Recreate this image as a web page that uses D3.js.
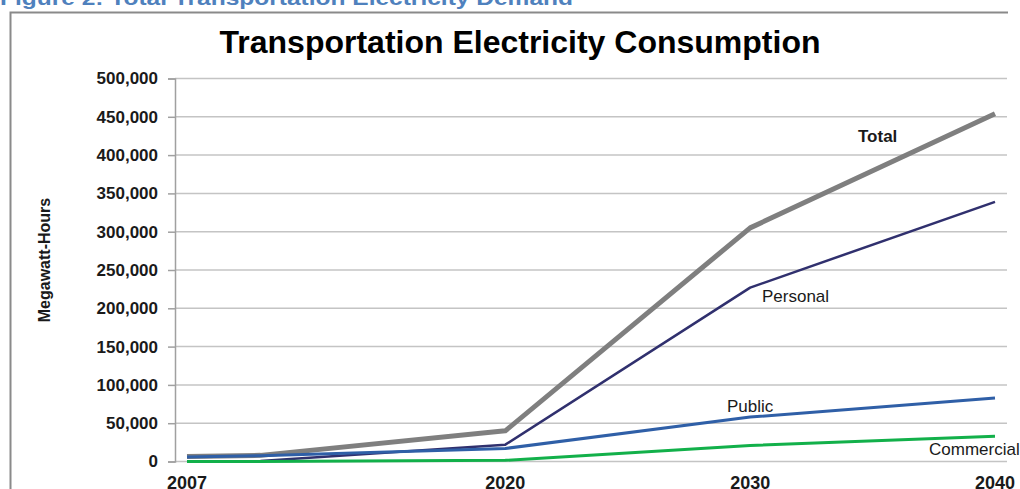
<!DOCTYPE html>
<html>
<head>
<meta charset="utf-8">
<script src="https://cdn.jsdelivr.net/npm/d3@7"></script>
<style>
  body { margin: 0; background: #fff; }
  svg { display: block; font-family: "Liberation Sans", Arial, sans-serif; }
</style>
</head>
<body>
<div id="chart"></div>
<script>
// values (MWh)
const years = [2007, 2010, 2020, 2030, 2040]
const total = [6500, 8000, 40000, 305000, 454000]
const personal = [0, 500, 22000, 227000, 339000]
const publicUse = [6000, 7500, 17000, 58000, 83000]
const commercial = [0, 0, 1500, 21000, 33000]
const yTicks = [0, 50000, 100000, 150000, 200000, 250000, 300000, 350000, 400000, 450000, 500000]
const xTicks = [2007, 2020, 2030, 2040]

const width = 1020
const height = 489

const series = [
    { name: "Total", values: total, color: "#7f7f7f", w: 5 },
    { name: "Personal", values: personal, color: "#30306e", w: 2.5 },
    { name: "Public", values: publicUse, color: "#2f5fa7", w: 3 },
    { name: "Commercial", values: commercial, color: "#12b04a", w: 3 }
]

const svg = d3.select("#chart")
    .append("svg")
    .attr("width", width)
    .attr("height", height)

// figure caption, cut off at the top like the scan
svg.append("text")
    .attr("x", 0)
    .attr("y", 5)
    .attr("fill", "#4f81bd")
    .attr("font-weight", "bold")
    .attr("font-size", 21)
    .attr("textLength", 573)
    .attr("lengthAdjust", "spacingAndGlyphs")
    .text("Figure 2: Total Transportation Electricity Demand")

// chart frame (left and top edges only visible)
svg.append("path")
    .attr("d", "M10.5,489 V12.5 H1008")
    .attr("fill", "none")
    .attr("stroke", "#8a8a8a")
    .attr("stroke-width", 2)

svg.append("text")
    .attr("x", 520)
    .attr("y", 53)
    .attr("text-anchor", "middle")
    .attr("font-weight", "bold")
    .attr("font-size", 32)
    .attr("fill", "#000")
    .text("Transportation Electricity Consumption")

const x = d3.scaleLinear()
    .domain([2007, 2040])
    .range([187, 995])

const y = d3.scaleLinear()
    .domain([0, 500000])
    .range([461.5, 78.5])

// gridlines
svg.append("g")
    .selectAll("line")
    .data(yTicks)
    .enter()
    .append("line")
    .attr("x1", 175)
    .attr("x2", 1007)
    .attr("y1", d => y(d))
    .attr("y2", d => y(d))
    .attr("stroke", "#c4c4c4")
    .attr("stroke-width", 1.5)

// y axis
const yAxis = svg.append("g")
    .attr("transform", "translate(175,0)")
    .call(d3.axisLeft(y).tickValues(yTicks).tickSize(7).tickPadding(10).tickFormat(d3.format(",")))
yAxis.select(".domain").attr("stroke", "#a0a0a0").attr("stroke-width", 1.5)
yAxis.selectAll(".tick line").attr("stroke", "#a0a0a0").attr("stroke-width", 1.5)
yAxis.selectAll(".tick text")
    .attr("font-size", 17)
    .attr("font-weight", "bold")
    .attr("font-family", "Liberation Sans, Arial, sans-serif")
    .attr("fill", "#1a1a1a")

// x axis labels
svg.append("g")
    .selectAll("text")
    .data(xTicks)
    .enter()
    .append("text")
    .attr("x", d => x(d))
    .attr("y", 489)
    .attr("text-anchor", "middle")
    .attr("font-size", 18)
    .attr("font-weight", "bold")
    .attr("fill", "#1a1a1a")
    .text(d => d)

svg.append("text")
    .attr("transform", "translate(50,260) rotate(-90)")
    .attr("text-anchor", "middle")
    .attr("font-size", 16)
    .attr("font-weight", "bold")
    .attr("fill", "#1a1a1a")
    .text("Megawatt-Hours")

const line = d3.line()
    .x((d, i) => x(years[i]))
    .y(d => y(d))

svg.append("g")
    .selectAll("path")
    .data(series)
    .enter()
    .append("path")
    .attr("d", d => line(d.values))
    .attr("fill", "none")
    .attr("stroke", d => d.color)
    .attr("stroke-width", d => d.w)
    .attr("stroke-linejoin", "round")

// series labels
const labels = [
    { text: "Total", x: 858, y: 142, bold: true },
    { text: "Personal", x: 762, y: 302, bold: false },
    { text: "Public", x: 727, y: 412, bold: false },
    { text: "Commercial", x: 929, y: 455, bold: false }
]
svg.append("g")
    .selectAll("text")
    .data(labels)
    .enter()
    .append("text")
    .attr("x", d => d.x)
    .attr("y", d => d.y)
    .attr("font-size", 17)
    .attr("font-weight", d => d.bold ? "bold" : "normal")
    .attr("fill", "#1a1a1a")
    .text(d => d.text)
</script>
</body>
</html>
